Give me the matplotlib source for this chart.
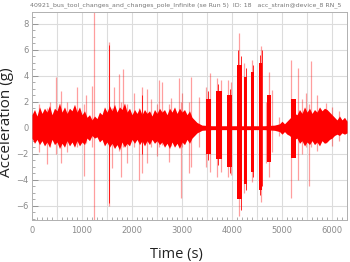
import numpy as np
import matplotlib
matplotlib.use("Agg")
import matplotlib.pyplot as plt
from matplotlib.ticker import MultipleLocator

title = "40921_bus_tool_changes_and_changes_pole_Infinite (se Run 5)  ID: 18   acc_strain@device_8 RN_5"

# dense core of the signal (time in s, upper / lower envelope in g)
band_t = (list(range(0, 3450, 50))
          + [3600, 3850, 4050, 4250, 4500, 4650, 4850, 4950]
          + list(range(5000, 6350, 50)))
band_hi = [1.0, 1.4, 0.9, 1.6, 1.1, 1.5, 1.2, 1.7, 1.0, 1.5, 1.3, 1.9, 1.2, 1.6, 1.1, 1.5,
           1.3, 1.8, 1.2, 1.6, 1.0, 1.3, 0.8, 1.0, 0.6, 0.9, 0.7, 1.2, 1.0, 1.6, 1.2, 1.7,
           1.3, 1.8, 1.2, 1.6, 1.4, 1.9, 1.2, 1.5, 1.0, 1.4, 1.1, 1.5, 1.0, 1.4, 1.1, 1.3,
           0.9, 1.4, 1.1, 1.5, 1.2, 1.4, 1.0, 1.5, 1.2, 1.6, 1.1, 1.5, 1.2, 1.4, 1.0, 1.3,
           0.8, 0.6, 0.4, 0.3, 0.2,
           0.15, 0.15, 0.15, 0.15, 0.15, 0.15, 0.2, 0.3,
           0.5, 0.3, 0.5, 0.7, 0.9, 1.1, 1.0, 1.4, 1.1, 1.6, 1.2, 1.5, 1.1, 1.4, 1.2, 1.6,
           1.3, 1.5, 1.4, 1.2, 1.0, 0.8, 0.6, 0.9, 0.6, 0.8, 0.5]
band_lo = [-0.8, -1.2, -0.9, -1.3, -1.0, -1.4, -1.1, -1.5, -0.9, -1.3, -1.1, -1.6, -1.2, -1.5, -1.0, -1.4,
           -1.1, -1.5, -1.0, -1.4, -1.1, -1.3, -0.8, -1.0, -0.6, -0.8, -0.7, -1.1, -0.9, -1.4, -1.1, -1.5,
           -1.2, -1.6, -1.3, -1.7, -1.1, -1.5, -1.2, -1.4, -0.9, -1.2, -0.9, -1.3, -1.0, -1.4, -1.0, -1.3,
           -0.9, -1.2, -1.0, -1.3, -1.1, -1.5, -1.2, -1.6, -1.1, -1.5, -1.2, -1.6, -1.1, -1.3, -0.9, -1.2,
           -0.8, -0.6, -0.4, -0.3, -0.2,
           -0.15, -0.15, -0.15, -0.15, -0.15, -0.15, -0.2, -0.3,
           -0.5, -0.3, -0.5, -0.6, -0.8, -0.9, -0.8, -1.2, -1.0, -1.4, -1.1, -1.3, -1.0, -1.3, -1.1, -1.4,
           -1.0, -1.2, -1.1, -0.9, -0.8, -0.6, -0.5, -0.6, -0.4, -0.5, -0.4]

# bursts of strong vibration (start, end, max, min)
burst_t0 = [3480, 3680, 3900, 4100, 4240, 4380, 4540, 4700, 5180]
burst_t1 = [3580, 3800, 4000, 4200, 4300, 4440, 4600, 4780, 5280]
burst_hi = [2.2, 2.8, 2.5, 4.8, 3.9, 4.3, 5.0, 2.5, 2.2]
burst_lo = [-2.0, -2.4, -3.0, -5.5, -4.3, -3.4, -4.8, -2.6, -2.3]

# strong single swings (time, max, min)
swing_t = [1540, 2200, 3520, 3720, 3960, 4120, 4180, 4270, 4420, 4560, 4590]
swing_hi = [6.4, 2.5, 2.8, 3.4, 3.0, 6.0, 5.5, 4.6, 4.8, 5.6, 6.0]
swing_lo = [-5.8, -2.0, -2.5, -2.9, -3.5, -5.2, -6.3, -4.8, -3.8, -5.2, -4.5]

# single peaks above the core (time, max, min)
peak_t = [140, 300, 360, 480, 580, 700, 900, 1040, 1080, 1200, 1240, 1540,
          1600, 1640, 1740, 1780, 1820, 1900, 2040, 2140, 2200, 2300, 2380,
          2500, 2540, 2600, 2740, 2780, 2940, 2980, 3000, 3140, 3180, 3340,
          3480, 3560, 3700, 3780, 3920, 3980, 4140, 4240, 4400, 4580, 4680,
          4740, 4800, 4940, 5180, 5320, 5400, 5480, 5540, 5580, 5700, 5880,
          6000, 6140]
peak_hi = [1.8, 1.5, 2.0, 3.9, 2.8, 2.0, 3.1, 1.8, 2.5, 3.2, 9.5, 6.6,
           1.5, 3.1, 4.1, 2.0, 4.5, 1.8, 2.7, 1.5, 3.1, 3.0, 2.2,
           1.8, 3.7, 3.5, 1.8, 2.3, 3.8, 2.0, 2.7, 2.0, 3.9, 2.4,
           3.1, 4.2, 3.8, 3.7, 3.7, 3.5, 7.3, 5.0, 5.2, 6.3, 2.0,
           4.3, 2.9, 0.8, 5.2, 4.6, 2.2, 2.7, 1.8, 5.1, 2.5, 1.9,
           1.6, 1.3]
peak_lo = [-1.9, -2.8, -1.5, -2.0, -2.7, -1.9, -1.5, -3.7, -1.2, -1.5, -7.5, -6.0,
           -3.1, -1.5, -1.8, -3.8, -1.5, -2.7, -1.5, -4.0, -3.5, -2.7, -1.5,
           -2.2, -1.5, -1.3, -2.6, -1.4, -1.5, -5.4, -1.5, -3.5, -3.0, -1.5,
           -3.0, -3.4, -3.8, -3.4, -3.8, -3.6, -6.8, -5.0, -4.2, -5.7, -2.7,
           -3.8, -1.9, -0.6, -5.4, -4.0, -2.0, -1.5, -4.5, -1.5, -1.8, -1.2,
           -1.4, -1.0]

red = "#ff0000"
grey = "#8a8a8a"

fig = plt.figure(figsize=(3.5, 2.62), dpi=100)
ax = fig.add_axes([32 / 350, 42 / 262, 315 / 350, 208 / 262])

ax.vlines(peak_t, peak_lo, peak_hi, color=red, alpha=0.38, lw=0.9, zorder=2)
ax.vlines(swing_t, swing_lo, swing_hi, color=red, alpha=0.85, lw=0.7, zorder=3)
ax.bar(burst_t0, np.subtract(burst_hi, burst_lo), width=np.subtract(burst_t1, burst_t0),
       bottom=burst_lo, align="edge", color=red, lw=0, zorder=3)
ax.fill_between(band_t, band_lo, band_hi, color=red, lw=0, zorder=3)

ax.set_xlim(0, 6300)
ax.set_ylim(-7.1, 8.9)
ax.xaxis.set_major_locator(MultipleLocator(1000))
ax.xaxis.set_minor_locator(MultipleLocator(100))
ax.yaxis.set_major_locator(MultipleLocator(2))
ax.yaxis.set_minor_locator(MultipleLocator(0.5))

# grid every 500 s / 2 g
for gx in np.arange(500, 6300, 500):
    ax.axvline(gx, color="#dcdcdc", lw=0.8, zorder=1)
ax.grid(axis="y", color="#dcdcdc", lw=0.8, zorder=1)
ax.set_axisbelow(True)

ax.tick_params(which="both", direction="in", colors=grey, labelsize=6)
ax.tick_params(axis="x", pad=4)
ax.tick_params(axis="y", pad=2.5)
ax.tick_params(which="major", length=4, width=0.6)
ax.tick_params(which="minor", length=2, width=0.5)
for s in ax.spines.values():
    s.set_color("#b0b0b0")
    s.set_linewidth(0.7)

ax.set_xlabel("Time (s)", fontsize=10.5, color="#222222", family="Open Sans")
ax.set_ylabel("Acceleration (g)", fontsize=11, color="#222222", family="Open Sans")
ax.xaxis.set_label_coords(0.46, -0.13)
ax.yaxis.set_label_coords(-0.058, 0.47)

fig.text(30 / 350, 1 - 5 / 262, title, fontsize=4.5, color="#777777", va="center", ha="left")

plt.savefig("out.png", dpi=100)
